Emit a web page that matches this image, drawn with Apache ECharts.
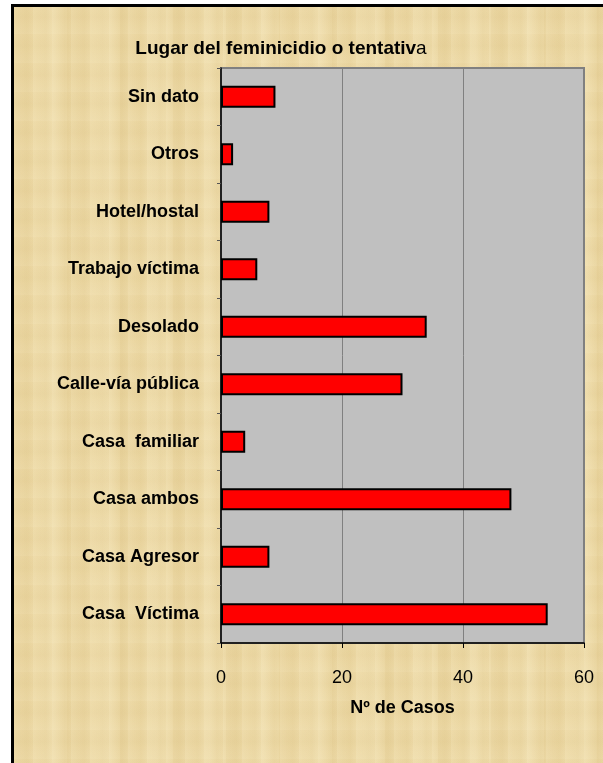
<!DOCTYPE html>
<html>
<head>
<meta charset="utf-8">
<script src="https://cdn.jsdelivr.net/npm/echarts@6/dist/echarts.min.js"></script>
<style>
html,body{margin:0;padding:0;background:#fff;}
#wrap{position:relative;width:603px;height:763px;overflow:hidden;background:#fff;}
#paper{position:absolute;left:11px;top:4px;width:700px;height:900px;box-sizing:border-box;border-left:3px solid #000;border-top:3px solid #000;
background-color:#ECD8A4;
background-image:
 repeating-linear-gradient(90deg, rgba(255,244,210,0.16) 0px, rgba(255,244,210,0) 7px, rgba(205,175,105,0.09) 13px, rgba(255,244,210,0) 19px),
 repeating-linear-gradient(90deg, rgba(200,168,95,0.09) 0px, rgba(200,168,95,0) 23px, rgba(255,248,220,0.15) 37px, rgba(200,168,95,0) 53px),
 repeating-linear-gradient(0deg, rgba(255,246,215,0.10) 0px, rgba(255,246,215,0) 11px, rgba(195,165,95,0.06) 17px, rgba(255,246,215,0) 29px);}
#chart{position:absolute;left:0;top:0;width:603px;height:763px;}
</style>
</head>
<body>
<div id="wrap"><div id="paper"></div><div id="chart"></div></div>
<script>
const categories = ['Casa  Víctima','Casa Agresor','Casa ambos','Casa  familiar','Calle-vía pública','Desolado','Trabajo víctima','Hotel/hostal','Otros','Sin dato'];
const values = [54, 8, 48, 4, 30, 34, 6, 8, 2, 9];
const xTicks = [0, 20, 40, 60];
const titleMain = 'Lugar del feminicidio o tentativ';
const titleEnd = 'a';
const xAxisName = 'Nº de Casos';

const FF = 'Liberation Sans, Arial, sans-serif';
const chart = echarts.init(document.getElementById('chart'), null, {renderer:'canvas'});
chart.setOption({
  backgroundColor: 'transparent',
  animation: false,
  title: {
    text: '{b|' + titleMain + '}{r|' + titleEnd + '}',
    left: 276, top: 34, textAlign: 'center',
    textStyle: {
      rich: {
        b: {fontFamily: FF, fontWeight: 'bold', fontSize: 19, color: '#000'},
        r: {fontFamily: FF, fontWeight: 'normal', fontSize: 19, color: '#000'}
      }
    }
  },
  grid: {
    left: 221, right: 19, top: 68, bottom: 120,
    show: true, backgroundColor: '#C0C0C0', borderColor: '#808080', borderWidth: 2
  },
  xAxis: {
    type: 'value', min: xTicks[0], max: xTicks[xTicks.length-1], interval: 20,
    name: xAxisName, nameLocation: 'middle', nameGap: 56,
    nameTextStyle: {fontFamily: FF, fontWeight: 'bold', fontSize: 18, color: '#000'},
    axisLine: {show: true, lineStyle: {color: '#000', width: 1.5}},
    axisTick: {show: true, length: 5, lineStyle: {color: '#000'}},
    axisLabel: {margin: 26, fontFamily: FF, fontSize: 18, color: '#000'},
    splitLine: {show: true, lineStyle: {color: '#808080', width: 1}}
  },
  yAxis: {
    type: 'category', data: categories,
    axisLine: {show: true, lineStyle: {color: '#000', width: 1.5}},
    axisTick: {show: true, length: 4, lineStyle: {color: '#555'}},
    axisLabel: {margin: 22, fontFamily: FF, fontWeight: 'bold', fontSize: 18, color: '#000'},
    splitLine: {show: false}
  },
  series: [{
    type: 'bar', data: values, barWidth: 22,
    itemStyle: {color: '#FF0000', borderColor: '#000', borderWidth: 2}
  }]
});
</script>
</body>
</html>
